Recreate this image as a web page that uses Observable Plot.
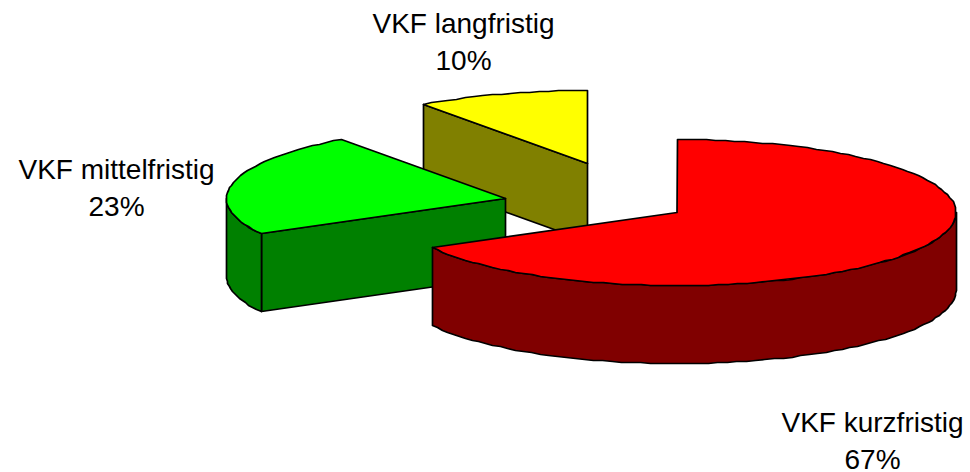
<!DOCTYPE html>
<html>
<head>
<meta charset="utf-8">
<script src="https://cdn.jsdelivr.net/npm/d3@7"></script>
<script src="https://cdn.jsdelivr.net/npm/@observablehq/plot@0.6"></script>
<style>html,body{margin:0;padding:0;background:#fff;overflow:hidden}svg{display:block}</style>
</head>
<body>
<div id="chart"></div>
<script>
// Data
const categories = ["VKF kurzfristig", "VKF mittelfristig", "VKF langfristig"];
const shares = [67, 23, 10];
const topColors = ["#ff0000", "#00ff00", "#ffff00"];
const sideColors = ["#800000", "#008000", "#808000"];

// 3D pie geometry
const rx = 279, ry = 73, depth = 78;
const apexX = [676.5, 505, 587], apexY = [212, 198, 163];
const labelX = [872, 116, 463], labelY = [438, 185.5, 39.5];

const total = d3.sum(shares);
const cum = d3.cumsum(shares);
// the reference's arcs are slightly stepped: snap rim points to whole pixels
const rim = (i, deg, drop = 0) => ({
  x: Math.round(apexX[i] + rx * Math.sin(deg * Math.PI / 180)),
  y: Math.round(apexY[i] - ry * Math.cos(deg * Math.PI / 180)) + drop
});
const arc = (i, a0, a1, drop = 0) => {
  const n = Math.max(2, Math.ceil(Math.abs(a1 - a0) / 2));
  return d3.range(n + 1).map(k => rim(i, a0 + (a1 - a0) * k / n, drop));
};

const polys = [];
const add = (pts, color) => {
  const id = polys.length;
  polys.push({id, color, pts: [...pts, pts[0]]});
};
// back to front: last slice first
[2, 1, 0].forEach(i => {
  const a0 = (i ? cum[i - 1] : 0) / total * 360;
  const a1 = cum[i] / total * 360;
  const apex = {x: apexX[i], y: apexY[i]};
  const down = {x: apex.x, y: apex.y + depth};
  // flat cut faces turned to the viewer
  if (i === 2 || i === 1) add([apex, rim(i, a0), rim(i, a0, depth), down], sideColors[i]);
  // outer wall, only where it faces the viewer
  const v0 = Math.max(a0, 90), v1 = Math.min(a1, 270);
  if (v1 > v0) add([...arc(i, v0, v1), ...arc(i, v1, v0, depth)], sideColors[i]);
  // top
  add([apex, ...arc(i, a0, a1)], topColors[i]);
});
const rows = polys.flatMap(p => p.pts.map(q => ({...q, id: p.id, color: p.color})));
const labels = categories.map((c, i) => ({
  text: `${c}\n${shares[i]}%`, x: labelX[i], y: labelY[i]
}));

const plot = Plot.plot({
  width: 970, height: 472,
  margin: 0,
  x: {domain: [0, 970], range: [0, 970], axis: null},
  y: {domain: [0, 472], range: [0, 472], axis: null},
  style: {background: "#fff"},
  marks: [
    Plot.line(rows, {x: "x", y: "y", z: "id", fill: "color", stroke: "#000", strokeWidth: 1.7, strokeLinejoin: "round", curve: "linear"}),
    Plot.text(labels, {x: "x", y: "y", text: "text", fontSize: 28, lineHeight: 1.31, fill: "#000", fontFamily: "Liberation Sans, Arial, sans-serif"})
  ]
});
document.getElementById("chart").append(plot);
</script>
</body>
</html>
